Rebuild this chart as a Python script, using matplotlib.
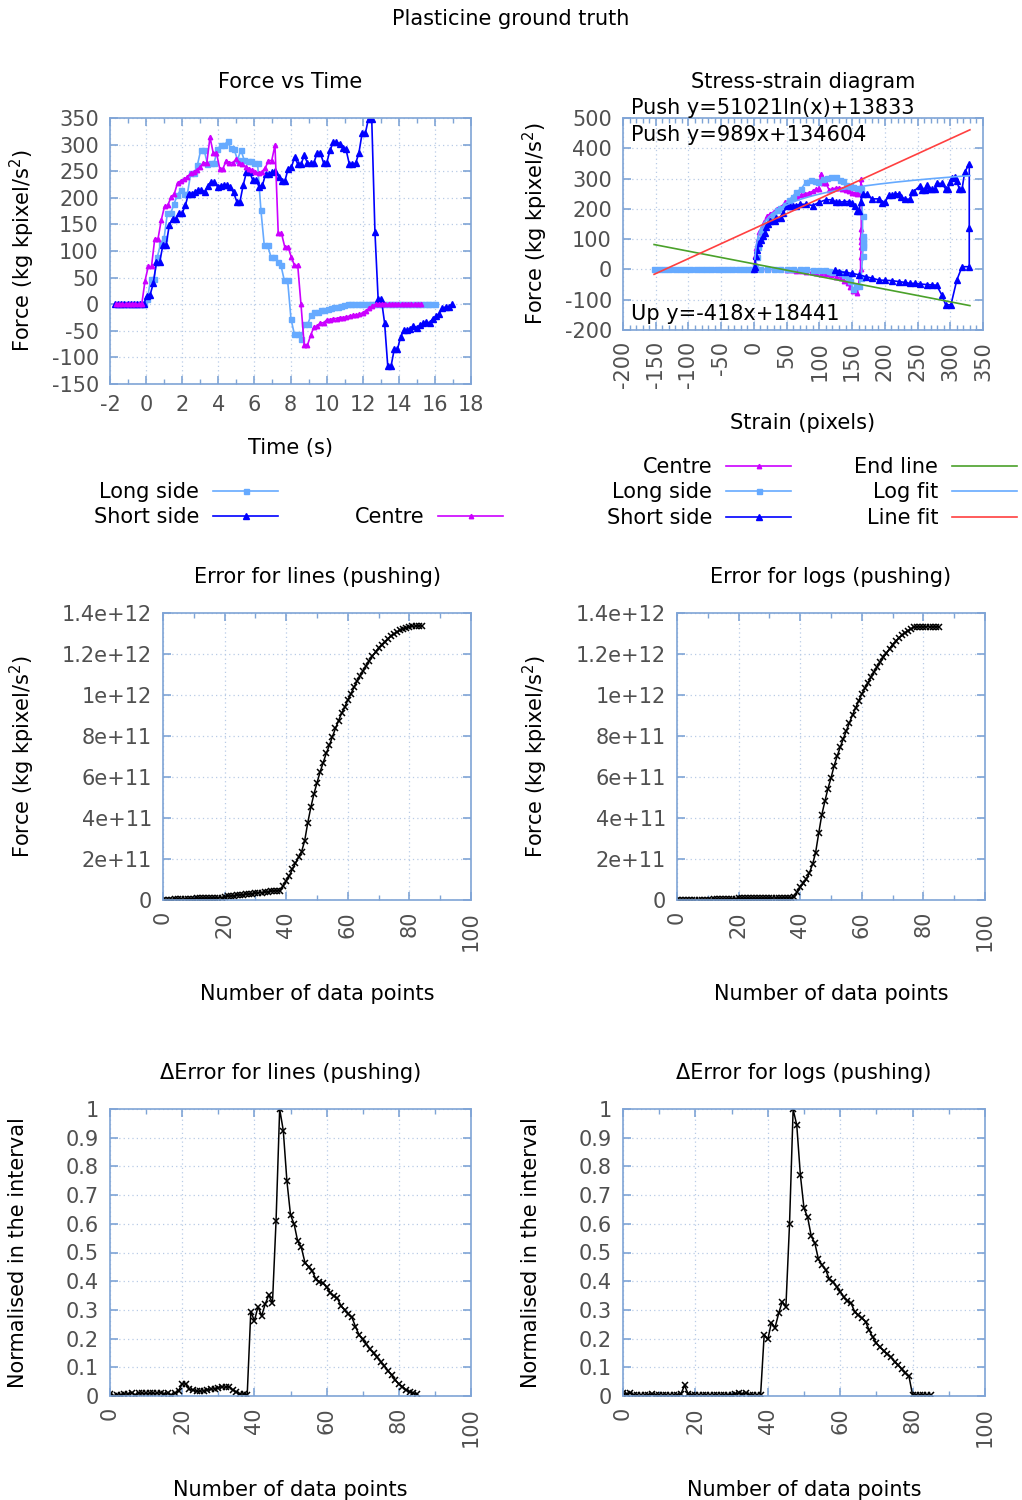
import numpy as np
import matplotlib
matplotlib.use('Agg')
import matplotlib.pyplot as plt
from matplotlib.ticker import MultipleLocator, FuncFormatter

plt.rcParams['font.family'] = ['DejaVu Sans']

# ---------------- data ----------------
# Force vs time (kg kpixel/s^2), regular sampling: start time, step
CENTRE_T0, CENTRE_DT = -1.68, 0.18
CENTRE_F = [0, 0, 0, 0, 0, 0, 0, 0, 0,
            44, 71, 71, 123, 123, 158, 184, 186, 201, 207, 228, 232, 235, 239, 246, 248, 253, 258,
            266, 265, 314, 284, 284, 255, 255, 270, 266, 266, 272, 265, 264, 258, 255, 252, 249,
            246, 249, 256, 270, 270, 299, 133, 133, 108, 108, 89, 73, 73, 0, -77, -77,
            -58, -43, -41, -35, -35, -29, -29, -27, -27, -25, -25, -24, -22, -21, -20, -19, -16,
            -12, -8, -3, 0, 0, 0, 0, 0, 0, 0, 0, 0, 0, 0, 0, 0, 0, 0]

LONG_T0, LONG_DT = -1.595, 0.185
LONG_F = [0, 0, 0, 0, 0, 0, 0, 0, 0,
          9, 48, 48, 89, 115, 124, 171, 171, 189, 205, 215, 208, 208, 246, 246, 262, 290, 290,
          263, 265, 266, 291, 299, 299, 306, 293, 291, 271, 290, 271, 270, 270, 265, 265, 177,
          111, 111, 89, 89, 80, 73, 45, 45, -27, -56, -56, -66, -38, -38, -21, -14, -14, -11,
          -10, -9, -8, -6, -5, -4, -2,
          0, 0, 0, 0, 0, 0, 0, 0, 0, 0, 0, 0, 0, 0, 0, 0, 0, 0, 0, 0, 0, 0, 0, 0, 0, 0, 0]

SHORT_T0, SHORT_DT = -1.74, 0.178
SHORT_F = [0, 0, 0, 0, 0, 0, 0, 0, 0, 0,
           16, 17, 39, 79, 79, 111, 111, 149, 161, 161, 171, 171, 186, 208, 208, 211, 215, 215,
           211, 222, 230, 230, 221, 222, 224, 224, 220, 210, 193, 193, 224, 248, 248, 233, 233,
           220, 224, 245, 245, 248, 250, 240, 232, 232, 255, 257, 277, 263, 263, 280, 265, 265,
           266, 284, 284, 266, 266, 289, 304, 304, 302, 293, 291, 264, 264, 265, 284, 321, 321,
           349, 349, 136, 9, 9, -35, -117, -117, -85, -85, -61, -49, -49, -46, -41, -44, -40,
           -36, -33, -35, -27, -23, -18, -8, -5, -5, 0]

# Stress-strain (strain in pixels, force in kg kpixel/s^2)
SS_CENTRE_X = [-60, -54, -48, -42, -36, -30, -24, -18, -12, -6, 0,
               1, 2, 3, 6, 8, 12, 16, 20, 25, 30, 35, 42, 48, 55, 60, 66, 72, 78, 84, 90, 95, 99,
               102, 105, 110, 115, 120, 125, 130, 135, 140, 145, 150, 155, 158, 160, 162, 163, 164,
               164, 163, 163, 164, 163, 163, 158, 152, 147, 143, 138, 133, 125, 118, 110, 102, 95,
               88, 80, 72, 65, 58, 50, 40, 30, 20, 10]
SS_CENTRE_Y = [0, 0, 0, 0, 0, 0, 0, 0, 0, 0, 0,
               20, 44, 71, 100, 123, 140, 158, 175, 184, 190, 201, 207, 222, 230, 235, 239, 246,
               250, 253, 258, 266, 265, 314, 284, 284, 262, 266, 268, 270, 266, 262, 258, 254, 252,
               249, 252, 258, 275, 299, 133, 108, 89, 73, 40, 0, -77, -72, -58, -46, -38, -29, -24,
               -19, -16, -14, -12, -10, -8, -6, -4, -2, -1, 0, 0, 0, 0]

SS_LONG_X = [-152, -145, -137, -129, -121, -113, -105, -97, -89, -81, -73, -65, -57, -49, -41,
             -33, -25, -17, -9, -3,
             2, 4, 6, 9, 13, 18, 23, 29, 35, 40, 47, 53, 59, 65, 72, 80, 87, 93, 98, 105, 111,
             118, 125, 131, 136, 141, 147, 152, 158, 164, 166, 166, 166, 167, 166, 167, 166, 164,
             160, 156, 152, 147, 143, 138, 133, 128, 120, 115, 108, 100, 90, 80, 70, 60, 50, 40,
             30, 20, 10]
SS_LONG_Y = [0, 0, 0, 0, 0, 0, 0, 0, 0, 0, 0, 0, 0, 0, 0, 0, 0, 0, 0, 0,
             8, 40, 75, 100, 130, 150, 160, 180, 195, 202, 213, 229, 240, 257, 265, 290, 295, 292,
             290, 298, 301, 305, 306, 296, 291, 280, 275, 272, 268, 265, 177, 111, 100, 89, 80, 73,
             45, -27, -56, -56, -66, -38, -24, -18, -13, -10, -7, -4, -3, -2, -1, 0, 0, 0, 0, 0,
             0, 0, 0]

SS_SHORT_X = [0, 1, 3, 5, 8, 11, 14, 17, 19, 22, 25, 32, 34, 42, 45, 50, 55, 60, 65, 70, 80, 90,
              100, 110, 120, 125, 130, 138, 145, 150, 155, 158, 160, 163, 166, 173, 180, 191, 196,
              201, 206, 211, 216, 221, 224, 231, 239, 241, 244, 254, 257, 262, 264, 267, 272, 277,
              279, 287, 293, 296, 300, 303, 307, 310, 314, 318, 322, 329, 329, 329, 318, 310, 301,
              293, 287, 279, 272, 264, 254, 246, 238, 231, 221, 211, 201, 191, 181, 171, 161, 150,
              140, 130, 124]
SS_SHORT_Y = [0, 9, 44, 64, 86, 97, 111, 119, 141, 149, 160, 161, 171, 171, 186, 208, 208, 211,
              211, 215, 215, 211, 222, 230, 230, 221, 222, 224, 224, 220, 210, 193, 193, 224, 248,
              248, 233, 233, 220, 224, 245, 245, 248, 250, 240, 232, 232, 255, 257, 277, 263, 263,
              280, 265, 265, 266, 284, 284, 266, 266, 289, 302, 304, 291, 264, 265, 321, 349, 136,
              9, 9, -35, -117, -117, -84, -52, -51, -50, -48, -46, -46, -43, -40, -37, -36, -35,
              -29, -24, -18, -13, -10, -7, -1]

# fits (coefficients from the annotations, force in kg kpixel/s^2)
LINE_A, LINE_B = 0.989, 134.604      # Push y=989x+134604
LOG_A, LOG_B = 51.021, 13.833        # Push y=51021ln(x)+13833
END_A, END_B = -0.418, 18.441        # Up y=-418x+18441
FIT_X_RANGE = (-152.5, 330)
LOG_X_RANGE = (1.5, 330)

# Error curves (x = number of data points)
ERR_LINES = [0.0, 0.001, 0.002, 0.002, 0.003, 0.004, 0.004, 0.005, 0.006, 0.006, 0.007, 0.008,
             0.008, 0.009, 0.009, 0.010, 0.010, 0.011, 0.011, 0.012, 0.013, 0.018, 0.020, 0.021,
             0.023, 0.025, 0.026, 0.028, 0.030, 0.031, 0.033, 0.035, 0.036, 0.038, 0.040, 0.043,
             0.045, 0.046, 0.046,
             0.068, 0.093, 0.117, 0.150, 0.179, 0.208, 0.236, 0.289, 0.377, 0.452, 0.517, 0.572,
             0.624, 0.670, 0.715, 0.754, 0.797, 0.837, 0.875, 0.911, 0.940, 0.976, 1.005, 1.037,
             1.067, 1.093, 1.119, 1.143, 1.167, 1.190, 1.210, 1.229, 1.246, 1.260, 1.275, 1.288,
             1.298, 1.307, 1.317, 1.324, 1.328, 1.333, 1.335, 1.337, 1.337, 1.337]
ERR_LOGS = [0.0, 0.0, 0.0, 0.001, 0.001, 0.001, 0.001, 0.002, 0.002, 0.002, 0.002, 0.002,
            0.003, 0.003, 0.003, 0.003, 0.003, 0.007, 0.007, 0.007, 0.008, 0.008, 0.008, 0.008,
            0.008, 0.008, 0.008, 0.008, 0.009, 0.009, 0.009, 0.010, 0.010, 0.011, 0.011, 0.012,
            0.012, 0.012,
            0.013, 0.039, 0.062, 0.081, 0.101, 0.133, 0.174, 0.231, 0.325, 0.415, 0.481, 0.543,
            0.595, 0.654, 0.702, 0.745, 0.787, 0.826, 0.865, 0.904, 0.937, 0.972, 1.005, 1.033,
            1.060, 1.086, 1.114, 1.138, 1.161, 1.184, 1.203, 1.226, 1.246, 1.262, 1.278, 1.291,
            1.304, 1.314, 1.324, 1.330, 1.333, 1.333, 1.333, 1.333, 1.333, 1.333, 1.333, 1.333]
ERR_SCALE = 1e12

DERR_LINES = [0.007, 0.0, 0.002, 0.005, 0.007, 0.007, 0.012, 0.002, 0.009, 0.009, 0.009, 0.009,
              0.009, 0.009, 0.012, 0.007, 0.009, 0.002, 0.009, 0.019, 0.042, 0.042, 0.023, 0.021,
              0.016, 0.016, 0.019, 0.021, 0.023, 0.026, 0.028, 0.033, 0.030, 0.033, 0.021, 0.014,
              0.007, 0.007, 0.002,
              0.294, 0.262, 0.311, 0.279, 0.321, 0.352, 0.323, 0.611, 1.0, 0.925, 0.750, 0.631,
              0.599, 0.539, 0.518, 0.465, 0.451, 0.437, 0.407, 0.398, 0.393, 0.379, 0.360, 0.348,
              0.340, 0.314, 0.300, 0.286, 0.274, 0.242, 0.213, 0.197, 0.181, 0.163, 0.149, 0.135,
              0.120, 0.105, 0.088, 0.073, 0.056, 0.042, 0.033, 0.021, 0.015, 0.009, 0.007]
DERR_LOGS = [0.009, 0.007, 0.012, 0.002, 0.002, 0.002, 0.002, 0.002, 0.007, 0.002, 0.002, 0.002,
             0.002, 0.002, 0.002, 0.002, 0.007, 0.037, 0.007, 0.002, 0.002, 0.002, 0.002, 0.002,
             0.002, 0.002, 0.002, 0.002, 0.002, 0.005, 0.005, 0.007, 0.009, 0.007, 0.009, 0.005,
             0.002, 0.002, 0.002,
             0.213, 0.197, 0.256, 0.238, 0.288, 0.329, 0.311, 0.599, 0.999, 0.944, 0.770, 0.654,
             0.623, 0.557, 0.532, 0.476, 0.456, 0.439, 0.407, 0.398, 0.381, 0.364, 0.344, 0.332,
             0.323, 0.294, 0.282, 0.271, 0.259, 0.230, 0.204, 0.184, 0.170, 0.158, 0.146, 0.135,
             0.120, 0.108, 0.093, 0.080, 0.068, 0.003, 0.003, 0.003, 0.003, 0.003, 0.003]

# ---------------- style ----------------
W, H = 1022, 1500
FS = 15
FRAME = '#7fa4d6'
GRID = '#b8cbe6'
TICKC = '#505050'
C_LONG = '#66aaff'
C_SHORT = '#0000ff'
C_CENTRE = '#cc00ff'
C_END = '#4aa12a'
C_LOG = '#66aaff'
C_LINE = '#ff4040'

fig = plt.figure(figsize=(W / 100, H / 100), dpi=100)


def box(l, t, r, b):
    return [l / W, 1 - b / H, (r - l) / W, (b - t) / H]


gfmt = FuncFormatter(lambda v, p: '%g' % (0 if abs(v) < 1e-9 else v))


def style(ax, xmaj, xmin, ymaj, xrot=False):
    for sp in ax.spines.values():
        sp.set_color(FRAME)
        sp.set_linewidth(1.2)
    ax.xaxis.set_major_locator(MultipleLocator(xmaj))
    ax.xaxis.set_minor_locator(MultipleLocator(xmin))
    ax.yaxis.set_major_locator(MultipleLocator(ymaj))
    ax.xaxis.set_major_formatter(gfmt)
    ax.yaxis.set_major_formatter(gfmt)
    ax.tick_params(which='both', direction='in', top=True, right=True, color=FRAME,
                   labelcolor=TICKC, labelsize=FS)
    ax.tick_params(which='major', length=6, width=1.2, pad=8)
    ax.tick_params(which='minor', length=3.5, width=1.0)
    ax.tick_params(axis='y', which='minor', left=False, right=False)
    if xrot:
        ax.tick_params(axis='x', labelrotation=90)
    ax.grid(True, which='major', color=GRID, linestyle=(0, (1, 2.5)), linewidth=0.9)
    ax.set_axisbelow(True)


def label_axes(ax, title, xlabel, ylabel, xlab_off, ylab_x):
    pos = ax.get_position()
    hpx = pos.height * H
    ax.text(0.5, 1 + 36 / hpx, title, transform=ax.transAxes, ha='center', va='center',
            fontsize=FS, color='black')
    ax.text(0.5, -xlab_off / hpx, xlabel, transform=ax.transAxes, ha='center', va='center',
            fontsize=FS, color='black')
    fig.text(ylab_x / W, pos.y0 + pos.height / 2, ylabel, rotation=90, ha='center',
             va='center', fontsize=FS, color='black')


FORCE_LABEL = 'Force (kg kpixel/s$^2$)'
leg_kw = dict(frameon=False, markerfirst=False, numpoints=1, fontsize=FS, handlelength=3.1,
              handletextpad=0.68, borderpad=0, borderaxespad=0, labelspacing=0.26)

# ---------- Force vs time ----------
ax1 = fig.add_axes(box(110, 118, 471, 384))
t_long = LONG_T0 + LONG_DT * np.arange(len(LONG_F))
t_short = SHORT_T0 + SHORT_DT * np.arange(len(SHORT_F))
t_centre = CENTRE_T0 + CENTRE_DT * np.arange(len(CENTRE_F))
h_long, = ax1.plot(t_long, LONG_F, '-', color=C_LONG, lw=1.2, marker='s', ms=3.6, label='Long side')
h_short, = ax1.plot(t_short, SHORT_F, '-', color=C_SHORT, lw=1.2, marker='^', ms=4.0, label='Short side')
h_centre, = ax1.plot(t_centre, CENTRE_F, '-', color=C_CENTRE, lw=1.2, marker='^', ms=3.2, label='Centre')
ax1.set_xlim(-2, 18)
ax1.set_ylim(-150, 350)
style(ax1, 2, 1, 50)
label_axes(ax1, 'Force vs Time', 'Time (s)', FORCE_LABEL, 64, 22)

fig.legend(handles=[h_long, h_short], loc='upper right',
           bbox_to_anchor=(278 / W, 1 - 482 / H), **leg_kw)
fig.legend(handles=[h_centre], loc='upper right',
           bbox_to_anchor=(503 / W, 1 - 507 / H), **leg_kw)

# ---------- Stress-strain ----------
ax2 = fig.add_axes(box(623, 118, 983, 330))
g_centre, = ax2.plot(SS_CENTRE_X, SS_CENTRE_Y, '-', color=C_CENTRE, lw=1.2, marker='^', ms=3.2, label='Centre')
g_long, = ax2.plot(SS_LONG_X, SS_LONG_Y, '-', color=C_LONG, lw=1.2, marker='s', ms=3.6, label='Long side')
g_short, = ax2.plot(SS_SHORT_X, SS_SHORT_Y, '-', color=C_SHORT, lw=1.2, marker='^', ms=4.0, label='Short side')
xf = np.linspace(FIT_X_RANGE[0], FIT_X_RANGE[1], 200)
xl = np.linspace(LOG_X_RANGE[0], LOG_X_RANGE[1], 400)
g_end, = ax2.plot(xf, END_A * xf + END_B, '-', color=C_END, lw=1.2, label='End line')
g_log, = ax2.plot(xl, LOG_A * np.log(xl) + LOG_B, '-', color=C_LOG, lw=1.2, label='Log fit')
g_line, = ax2.plot(xf, LINE_A * xf + LINE_B, '-', color=C_LINE, lw=1.2, label='Line fit')
ax2.set_xlim(-200, 350)
ax2.set_ylim(-200, 500)
style(ax2, 50, 10, 100, xrot=True)
label_axes(ax2, 'Stress-strain diagram', 'Strain (pixels)', FORCE_LABEL, 93, 535)
ax2.text(0.022, 1.049, 'Push y=51021ln(x)+13833', transform=ax2.transAxes, ha='left',
         va='center', fontsize=FS)
ax2.text(0.022, 0.918, 'Push y=989x+134604', transform=ax2.transAxes, ha='left',
         va='center', fontsize=FS)
ax2.text(0.022, 0.074, 'Up y=-418x+18441', transform=ax2.transAxes, ha='left',
         va='center', fontsize=FS)
fig.legend(handles=[g_centre, g_long, g_short], loc='upper right',
           bbox_to_anchor=(791 / W, 1 - 457 / H), **leg_kw)
fig.legend(handles=[g_end, g_log, g_line], loc='upper right',
           bbox_to_anchor=(1017 / W, 1 - 457 / H), **leg_kw)


# ---------- Error plots ----------
def err_panel(rect, values, title, ylab_x):
    ax = fig.add_axes(rect)
    x = np.arange(len(values))
    ax.plot(x, np.array(values) * ERR_SCALE, '-', color='black', lw=1.1, marker='x', ms=4,
            mew=1.1)
    ax.set_xlim(0, 100)
    ax.set_ylim(0, 1.4e12)
    style(ax, 20, 10, 2e11, xrot=True)
    label_axes(ax, title, 'Number of data points', FORCE_LABEL, 94, ylab_x)
    return ax


err_panel(box(163, 613, 471, 900), ERR_LINES, 'Error for lines (pushing)', 22)
err_panel(box(677, 613, 985, 900), ERR_LOGS, 'Error for logs (pushing)', 535)


def derr_panel(rect, values, title, ylab_x):
    ax = fig.add_axes(rect)
    x = np.arange(len(values))
    ax.plot(x, values, '-', color='black', lw=1.1, marker='x', ms=4, mew=1.1)
    ax.set_xlim(0, 100)
    ax.set_ylim(0, 1)
    style(ax, 20, 10, 0.1, xrot=True)
    label_axes(ax, title, 'Number of data points', 'Normalised in the interval', 94, ylab_x)
    return ax


derr_panel(box(110, 1109, 471, 1396), DERR_LINES, '\u0394Error for lines (pushing)', 18)
derr_panel(box(623, 1109, 985, 1396), DERR_LOGS, '\u0394Error for logs (pushing)', 531)

fig.text(0.5, 1 - 19 / H, 'Plasticine ground truth', ha='center', va='center', fontsize=FS)

fig.savefig('out.png', dpi=100)
